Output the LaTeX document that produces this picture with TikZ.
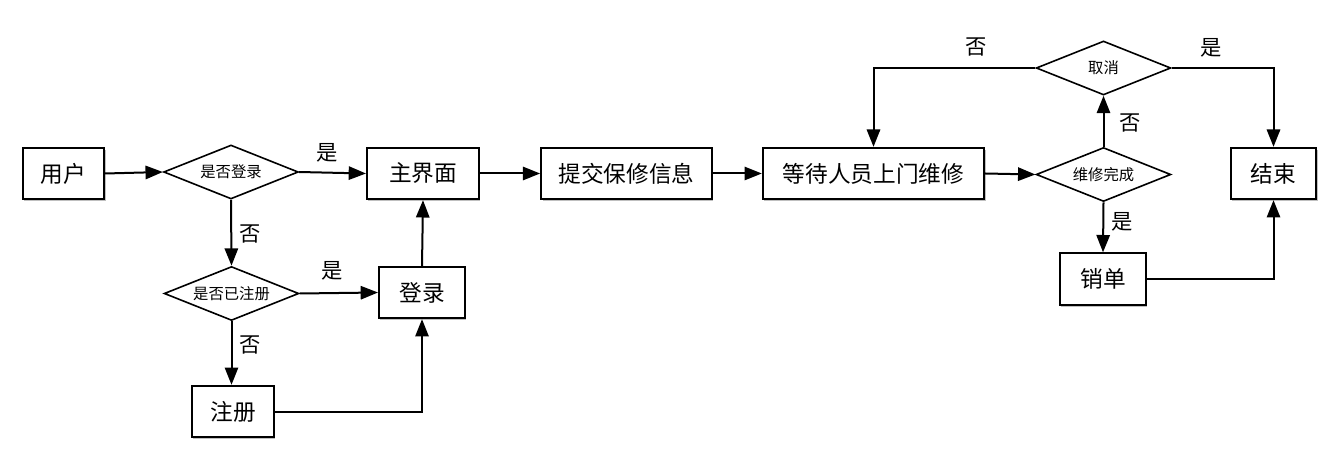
\documentclass[tikz,border=0pt]{standalone}
\usepackage{fontspec}
\setmainfont{Noto Sans CJK SC}
\usetikzlibrary{shapes.geometric,arrows.meta,shadows}
\begin{document}
\begin{tikzpicture}[x=0.75pt,y=-0.75pt,
  box/.style={draw, line width=1.5pt, fill=white, inner sep=0pt,
    minimum height=38.5pt, font=\fontsize{17}{20}\selectfont,
    drop shadow={shadow xshift=1pt,shadow yshift=-1.5pt,opacity=0.25,fill=black}},
  dec/.style={draw, line width=1.2pt, fill=white, shape=diamond, aspect=2.5, inner sep=0pt,
    minimum width=101pt, minimum height=40.5pt, font=\fontsize{11.5}{13}\selectfont},
  lab/.style={font=\fontsize{16}{18}\selectfont, inner sep=0pt},
  arr/.style={line width=1.5pt, -{Triangle[length=13pt,width=10pt]}},
  ln/.style={line width=1.5pt}]
\path[use as bounding box] (0,0) rectangle (1339,463);

\node[box, minimum width=61pt] (yonghu) at (63.5,173.5) {用户};
\node[dec] (d1) at (231,172) {是否登录};
\node[box, minimum width=84pt] (main) at (423,173.5) {主界面};
\node[box, minimum width=128pt] (tijiao) at (626.5,173.5) {提交保修信息};
\node[box, minimum width=166pt] (dengdai) at (873.5,173.5) {等待人员上门维修};
\node[dec] (d3) at (1103.5,174.5) {维修完成};
\node[box, minimum width=64pt] (jieshu) at (1273.5,173.5) {结束};
\node[dec] (d4) at (1103.5,68) {取消};
\node[box, minimum width=64.5pt] (xiaodan) at (1103,279) {销单};
\node[dec] (d2) at (231.5,293.5) {是否已注册};
\node[box, minimum width=64.5pt] (denglu) at (422,292.5) {登录};
\node[box, minimum width=61.5pt] (zhuce) at (233,411.5) {注册};

\draw[arr] (yonghu.east) -- (d1.west);
\draw[arr] (d1.east) -- (main.west);
\draw[arr] (main.east) -- (tijiao.west);
\draw[arr] (tijiao.east) -- (dengdai.west);
\draw[arr] (dengdai.east) -- (d3.west);
\draw[arr] (d3.south) -- (xiaodan.north);
\draw[arr] (d3.north) -- (d4.south);
\draw[arr] (d4.west) -| (dengdai.north);
\draw[arr] (d4.east) -| (jieshu.north);
\draw[arr] (xiaodan.east) -| (jieshu.south);
\draw[arr] (d1.south) -- (d2.north);
\draw[arr] (d2.east) -- (denglu.west);
\draw[arr] (d2.south) -- (d2.south |- zhuce.north);
\draw[arr] (zhuce.east) -| (denglu.south);
\draw[arr] (denglu.north) -- (main.south);

\node[lab] (l1) at (327,153) {是};
\node[lab] (l2) at (250,234) {否};
\node[lab] (l3) at (332,271) {是};
\node[lab] (l4) at (250,345) {否};
\node[lab] (l5) at (976,47) {否};
\node[lab] (l6) at (1211,48) {是};
\node[lab] (l7) at (1130,123) {否};
\node[lab] (l8) at (1122,222) {是};
\end{tikzpicture}
\end{document}
